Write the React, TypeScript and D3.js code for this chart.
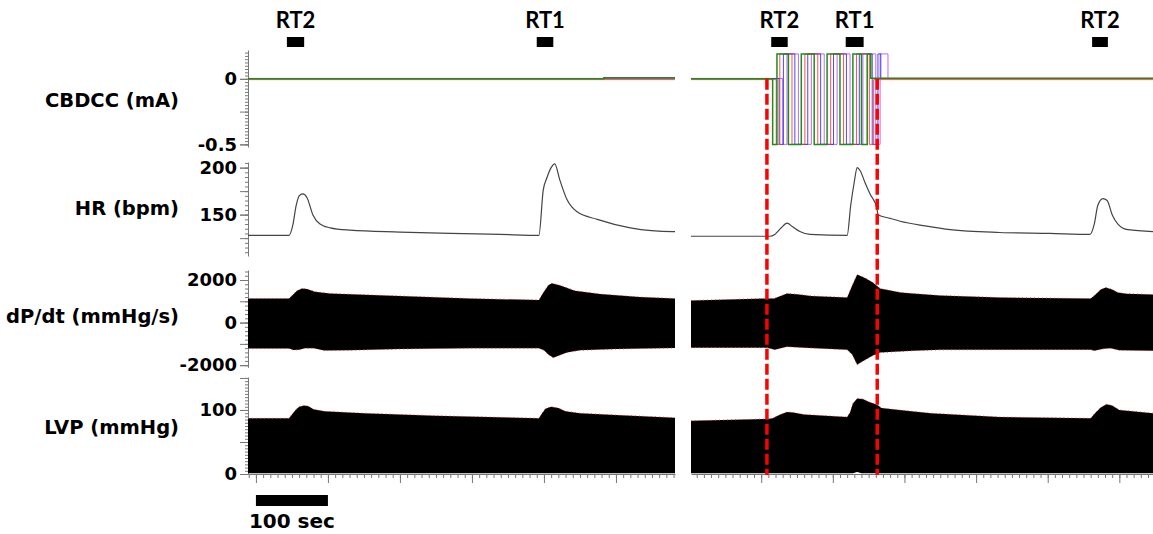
import React, { useEffect, useRef } from "react";
import * as d3 from "d3";

type Pt = [number, number];

// time (s) covered by the two recording segments
const leftDomain: Pt = [-11, 582];
const rightDomain: Pt = [-98, 547];

// stimulation markers [label, start s, end s]
const rtLeft: [string, number, number][] = [
  ["RT2", 43, 67],
  ["RT1", 390, 413],
];
const rtRight: [string, number, number][] = [
  ["RT2", 14, 37],
  ["RT1", 118, 143],
  ["RT2", 462, 484],
];

// dashed red markers (right segment, s)
const redMarks = [8, 162];

// CBDCC (mA), step traces per channel
const cbdccLeftGreen: Pt[] = [[-11, 0], [483, 0.006], [582, 0.006]];
const cbdccLeftRed: Pt[] = [[-11, -0.006], [582, -0.006]];
const cbdccLeftBlue: Pt[] = [[-11, 0.003], [483, 0.01], [582, 0.01]];
const cbdccLeftPurple: Pt[] = [[-11, 0.002], [582, 0.002]];

const cbdccRightGreen: Pt[] = [
  [-98, 0], [16, -0.5], [22, 0.19], [38, -0.5], [56, 0.19], [74, -0.5], [92, 0.19],
  [110, -0.5], [128, 0.19], [140, -0.5], [148, 0.19], [153, 0.005], [547, 0.005],
];
const cbdccRightRed: Pt[] = [
  [-98, -0.006], [21, -0.5], [26, 0.19], [43, -0.5], [61, 0.19], [79, -0.5], [97, 0.19],
  [115, -0.5], [133, 0.19], [151, -0.5], [157, -0.006], [547, -0.006],
];
const cbdccRightBlue: Pt[] = [
  [-98, 0.003], [25, -0.5], [31, 0.19], [47, -0.5], [65, 0.19], [83, -0.5], [101, 0.19],
  [119, -0.5], [137, 0.19], [155, -0.5], [163, 0.19], [167, 0.003], [547, 0.003],
];
const cbdccRightPurple: Pt[] = [
  [-98, 0.002], [30, -0.5], [36, 0.19], [52, -0.5], [70, 0.19], [88, -0.5], [106, 0.19],
  [124, -0.5], [142, 0.19], [160, -0.5], [166, 0.19], [177, 0.002], [547, 0.002],
];

// HR (bpm)
const hrLeft: Pt[] = [
  [-11, 128], [46, 128], [51, 138], [56, 160], [60, 170], [65, 172], [71, 168],
  [79, 150], [89, 140], [103, 136], [131, 133.5], [200, 131.5], [270, 130], [339, 129],
  [393, 128], [399, 176], [404, 189], [410, 200], [415, 204], [422, 187], [432, 166],
  [446, 153], [474, 145], [520, 136], [579, 132], [582, 132],
];
const hrRight: Pt[] = [
  [-98, 127], [12, 127], [19, 129], [28, 136], [36, 141], [44, 137], [54, 132], [68, 129],
  [120, 128], [125, 160], [130, 185], [134, 200], [138, 197], [145, 184], [152, 172],
  [161.5, 157], [163, 150], [180, 146], [194, 143], [229, 138], [264, 134], [333, 131],
  [403, 130], [459, 129], [465, 140], [470, 160], [477, 167], [483, 165], [490, 150],
  [498, 140], [512, 134], [547, 132],
];

// dP/dt (mmHg/s) envelopes
const dpLeftTop: Pt[] = [
  [-11, 1130], [46, 1130], [51, 1300], [57, 1500], [64, 1600], [71, 1580], [82, 1450],
  [103, 1365], [200, 1250], [297, 1130], [393, 1060], [399, 1400], [406, 1750],
  [411, 1850], [422, 1750], [443, 1500], [478, 1340], [533, 1200], [582, 1130],
];
const dpLeftBottom: Pt[] = [
  [-11, -1220], [46, -1220], [52, -1290], [60, -1280], [68, -1200], [80, -1200],
  [95, -1310], [130, -1300], [200, -1240], [300, -1200], [393, -1200], [400, -1300],
  [406, -1500], [413, -1650], [420, -1560], [432, -1400], [450, -1300], [500, -1240],
  [582, -1190],
];
const dpRightTop: Pt[] = [
  [-98, 1035], [8, 1130], [18, 1130], [27, 1250], [36, 1365], [50, 1330], [70, 1250],
  [120, 1180], [127, 1740], [134, 2260], [145, 2100], [156, 1880], [166, 1600],
  [195, 1410], [212, 1365], [250, 1270], [333, 1176], [460, 1130], [466, 1300],
  [474, 1550], [481, 1650], [490, 1560], [498, 1410], [510, 1360], [547, 1318],
];
const dpRightBottom: Pt[] = [
  [-98, -1176], [8, -1176], [19, -1270], [36, -1130], [60, -1176], [120, -1270],
  [127, -1500], [134, -1976], [140, -1850], [156, -1550], [166, -1410], [212, -1318],
  [250, -1280], [375, -1270], [460, -1270], [465, -1318], [478, -1230], [488, -1210],
  [500, -1300], [547, -1318],
];

// LVP (mmHg) envelopes
const lvpLeftTop: Pt[] = [
  [-11, 87], [46, 87], [50, 93], [55, 100], [60, 105], [67, 107], [73, 106], [80, 101],
  [95, 98], [150, 95], [250, 91], [393, 87], [397, 94], [402, 102], [410, 105],
  [420, 103], [430, 98], [450, 95], [500, 92], [582, 88],
];
const lvpLeftBottom: Pt[] = [[-11, 1], [582, 1]];
const lvpRightTop: Pt[] = [
  [-98, 83], [8, 86], [16, 87], [25, 92], [36, 97], [45, 96], [60, 93], [120, 89],
  [124, 96], [128, 110], [134, 118], [142, 117], [150, 113], [162, 108], [168, 103],
  [200, 99], [237, 95], [333, 89], [460, 87], [466, 95], [474, 104], [482, 109],
  [490, 107], [500, 100], [547, 95],
];
const lvpRightBottom: Pt[] = [[-98, 1], [128, 1], [134, 3], [140, 1], [547, 1]];

// axis labels
const rowLabels = ["CBDCC (mA)", "HR (bpm)", "dP/dt (mmHg/s)", "LVP (mmHg)"];
const cbdccTicks = [0, -0.5];
const hrTicks = [150, 200];
const dpTicks = [2000, 0, -2000];
const lvpTicks = [0, 100];

export default function App() {
  const ref = useRef<SVGSVGElement>(null);

  useEffect(() => {
    if (!ref.current) return;
    const svg = d3.select(ref.current);
    svg.selectAll("*").remove();

    const font = "'DejaVu Sans', sans-serif";
    const axisX = 248;
    const baseY = 474;

    const xL = d3.scaleLinear().domain(leftDomain).range([248, 675]);
    const xR = d3.scaleLinear().domain(rightDomain).range([691, 1153]);

    const yC = d3.scaleLinear().domain([-0.52, 0.22]).range([147, 50]);
    const yH = d3.scaleLinear().domain([106, 206]).range([256, 162]);
    const yD = d3.scaleLinear().domain([-2100, 2470]).range([367.3, 270]);
    const yV = d3.scaleLinear().domain([0, 151.5]).range([474, 377]);

    // y axes
    const yAxis = (
      y: d3.ScaleLinear<number, number>,
      minor: number,
      major: number,
      labels: number[]
    ) => {
      const [lo, hi] = y.domain();
      const g = svg.append("g").attr("transform", `translate(${axisX},0)`);
      const minorVals = d3.range(Math.ceil(lo / minor) * minor, hi + 1e-9, minor);
      const majorVals = d3.range(Math.ceil(lo / major) * major, hi + 1e-9, major);
      g.append("g")
        .call(d3.axisLeft(y).tickValues(minorVals).tickSize(3).tickSizeOuter(0).tickFormat(() => ""))
        .call((s) => s.selectAll("line,path").attr("stroke", "#777"));
      g.append("g")
        .call(d3.axisLeft(y).tickValues(majorVals).tickSize(8).tickSizeOuter(0).tickFormat(() => ""))
        .call((s) => s.select(".domain").remove())
        .call((s) => s.selectAll("line").attr("stroke", "#777"));
      g.append("g")
        .call(d3.axisLeft(y).tickValues(labels).tickSize(8).tickPadding(3).tickFormat((d) => String(+d)))
        .call((s) => s.select(".domain").remove())
        .call((s) => s.selectAll("line").attr("stroke", "#777"))
        .call((s) =>
          s.selectAll("text")
            .attr("fill", "#000")
            .style("font-family", font)
            .style("font-weight", "bold")
            .style("font-size", "18px")
        );
    };
    yAxis(yC, 0.025, 0.25, cbdccTicks);
    yAxis(yH, 5, 25, hrTicks);
    yAxis(yD, 200, 1000, dpTicks);
    yAxis(yV, 5, 50, lvpTicks);

    // row labels
    const labelY = [107, 215, 323, 434];
    rowLabels.forEach((t, i) => {
      svg.append("text")
        .attr("x", 179)
        .attr("y", labelY[i])
        .attr("text-anchor", "end")
        .style("font-family", font)
        .style("font-weight", "bold")
        .style("font-size", "19.5px")
        .text(t);
    });

    const segments = [
      {
        x: xL,
        cb: [cbdccLeftPurple, cbdccLeftBlue, cbdccLeftRed, cbdccLeftGreen],
        hr: hrLeft,
        dp: [dpLeftTop, dpLeftBottom],
        lvp: [lvpLeftTop, lvpLeftBottom],
        rt: rtLeft,
      },
      {
        x: xR,
        cb: [cbdccRightPurple, cbdccRightBlue, cbdccRightRed, cbdccRightGreen],
        hr: hrRight,
        dp: [dpRightTop, dpRightBottom],
        lvp: [lvpRightTop, lvpRightBottom],
        rt: rtRight,
      },
    ];
    const cbColors = ["#b44cff", "#2a2ae0", "#ff3030", "#1c8c1c"];

    segments.forEach((seg) => {
      const x = seg.x;

      // CBDCC step traces (green drawn last, on top)
      seg.cb.forEach((data, i) => {
        svg.append("path")
          .datum(data)
          .attr("fill", "none")
          .attr("stroke", cbColors[i])
          .attr("stroke-width", i === 3 ? 1.5 : 1)
          .attr("stroke-opacity", i === 3 ? 1 : 0.85)
          .attr(
            "d",
            d3.line<Pt>().x((d) => x(d[0])).y((d) => yC(d[1])).curve(d3.curveStepAfter)
          );
      });

      // HR
      svg.append("path")
        .datum(seg.hr)
        .attr("fill", "none")
        .attr("stroke", "#444")
        .attr("stroke-width", 1.2)
        .attr("d", d3.line<Pt>().x((d) => x(d[0])).y((d) => yH(d[1])).curve(d3.curveMonotoneX));

      // black bands
      const band = (top: Pt[], bottom: Pt[], y: d3.ScaleLinear<number, number>, redBottom: boolean) => {
        const pts: Pt[] = [
          ...top.map((d) => [x(d[0]), y(d[1])] as Pt),
          ...bottom.slice().reverse().map((d) => [x(d[0]), y(d[1])] as Pt),
        ];
        svg.append("path").attr("d", d3.line()(pts) + "Z").attr("fill", "#000");
        const edge = d3.line<Pt>().x((d) => x(d[0])).y((d) => y(d[1]));
        svg.append("path")
          .datum(top)
          .attr("fill", "none")
          .attr("stroke", "#e33")
          .attr("stroke-width", 0.9)
          .attr("stroke-dasharray", "1,3")
          .attr("d", edge);
        if (redBottom) {
          svg.append("path")
            .datum(bottom)
            .attr("fill", "none")
            .attr("stroke", "#e33")
            .attr("stroke-width", 0.9)
            .attr("stroke-dasharray", "1,3")
            .attr("d", edge);
        }
      };
      band(seg.dp[0], seg.dp[1], yD, true);
      band(seg.lvp[0], seg.lvp[1], yV, false);

      // x axis
      const [lo, hi] = x.domain();
      const minorVals = d3.range(Math.ceil(lo / 10) * 10, hi + 1e-9, 10);
      const majorVals = d3.range(Math.ceil(lo / 100) * 100, hi + 1e-9, 100);
      const gx = svg.append("g").attr("transform", `translate(0,${baseY})`);
      gx.append("g")
        .call(d3.axisBottom(x).tickValues(minorVals).tickSize(4).tickSizeOuter(0).tickFormat(() => ""))
        .call((s) => s.selectAll("line,path").attr("stroke", "#777"));
      gx.append("g")
        .call(d3.axisBottom(x).tickValues(majorVals).tickSize(9).tickSizeOuter(0).tickFormat(() => ""))
        .call((s) => s.select(".domain").remove())
        .call((s) => s.selectAll("line").attr("stroke", "#777"));

      // RT markers
      seg.rt.forEach(([label, a, b]) => {
        svg.append("rect")
          .attr("x", x(a))
          .attr("y", 37)
          .attr("width", x(b) - x(a))
          .attr("height", 10)
          .attr("fill", "#000");
        svg.append("text")
          .attr("x", (x(a) + x(b)) / 2)
          .attr("y", 28)
          .attr("text-anchor", "middle")
          .style("font-family", "Lato, sans-serif")
          .style("font-weight", "bold")
          .style("font-size", "22px")
          .text(label);
      });
    });

    // red dashed markers
    redMarks.forEach((t) => {
      svg.append("line")
        .attr("x1", xR(t))
        .attr("x2", xR(t))
        .attr("y1", yC(0))
        .attr("y2", baseY + 1)
        .attr("stroke", "#f00")
        .attr("stroke-width", 3.5)
        .attr("stroke-dasharray", "11,4");
    });

    // scale bar
    svg.append("rect")
      .attr("x", xL(0))
      .attr("y", 495)
      .attr("width", xL(100) - xL(0))
      .attr("height", 11)
      .attr("fill", "#000");
    svg.append("text")
      .attr("x", (xL(0) + xL(100)) / 2)
      .attr("y", 528)
      .attr("text-anchor", "middle")
      .style("font-family", font)
      .style("font-weight", "bold")
      .style("font-size", "20px")
      .text("100 sec");
  }, []);

  return (
    <svg
      ref={ref}
      width={1153}
      height={534}
      style={{ position: "absolute", left: 0, top: 0, background: "#fff" }}
    />
  );
}
